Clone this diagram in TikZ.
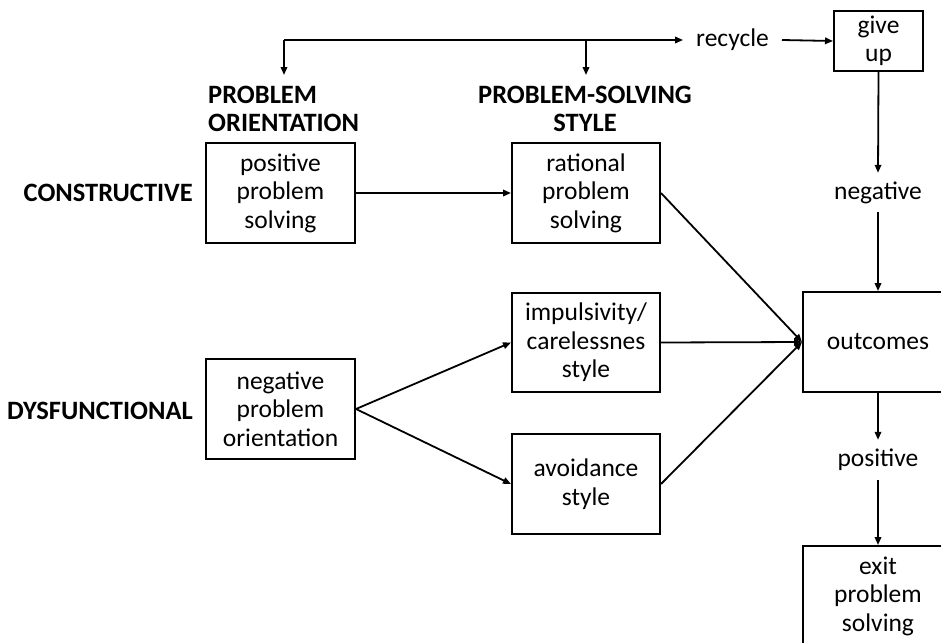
\documentclass[tikz,border=0pt]{standalone}
\usepackage{fontspec}
\setmainfont{Carlito}
\usetikzlibrary{arrows.meta}
\tikzset{
  box/.style={draw, line width=2pt, minimum width=148pt, minimum height=100pt, inner sep=0pt, align=center, font=\fontsize{25.5}{28.5}\selectfont},
  hdr/.style={inner sep=0pt, font=\fontsize{26.5}{28}\selectfont\bfseries},
  lbl/.style={inner sep=0pt, font=\fontsize{25.5}{28}\selectfont},
  arr/.style={line width=1.8pt, -{Triangle[length=8pt,width=6.5pt]}}
}
\begin{document}
\begin{tikzpicture}[x=1pt,y=-1pt]
\useasboundingbox (0,0) rectangle (941,642);
\fill[white] (0,0) rectangle (941,642);

% boxes
\node[box, minimum width=149pt] (ppos) at (280.5,193) {positive\\problem\\solving};
\node[box] (rat) at (586,193) {rational\\problem\\solving};
\node[box, minimum height=99pt] (imp) at (586,342.5) {impulsivity/\\carelessnes\\style};
\node[box] (avo) at (586,484) {avoidance\\style};
\node[box, minimum width=149pt] (neg) at (280.5,409) {negative\\problem\\orientation};
\node[box, minimum width=150pt] (out) at (878,342) {outcomes};
\node[box, minimum width=150pt] (exit) at (878,596) {exit\\problem\\solving};
\node[box, minimum width=89pt, minimum height=60pt] (give) at (878.5,41) {give\\up};

% headers and row labels
\node[hdr, align=left, anchor=west] (hdro) at (208,109) {PROBLEM\\ORIENTATION};
\node[hdr, align=center] (hdrs) at (585,109) {PROBLEM-SOLVING\\STYLE};
\node[hdr, anchor=east] (cons) at (193,193) {CONSTRUCTIVE};
\node[hdr, anchor=east] (dysf) at (193,411) {DYSFUNCTIONAL};

% labels on the right
\node[lbl, inner xsep=13pt] (recyc) at (732.5,40) {recycle};
\node[lbl, minimum height=39pt] (neglbl) at (878,192.5) {negative};
\node[lbl, minimum height=40pt] (poslbl) at (878,460) {positive};

% top loop
\coordinate (tl) at (284,40);
\coordinate (tm) at (586,40);
\coordinate (dl) at (284,75);
\coordinate (dm) at (586,75);
\draw[arr] (tl) -- (recyc.west);
\draw[arr] (tl) -- (dl);
\draw[arr] (tm) -- (dm);
\draw[arr] (recyc.east) -- (give.west);

% main flow
\draw[arr] (ppos.east) -- (rat.west);
\draw[arr] (neg.east) -- (imp.west);
\draw[arr] (neg.east) -- (avo.west);
\draw[arr] (rat.east) -- (out.west);
\draw[arr] (imp.east) -- (out.west);
\draw[arr] (avo.east) -- (out.west);

% right column
\draw[arr] (give.south) -- (neglbl.north);
\draw[arr] (neglbl.south) -- (out.north);
\draw[arr] (out.south) -- (poslbl.north);
\draw[arr] (poslbl.south) -- (exit.north);
\end{tikzpicture}
\end{document}
